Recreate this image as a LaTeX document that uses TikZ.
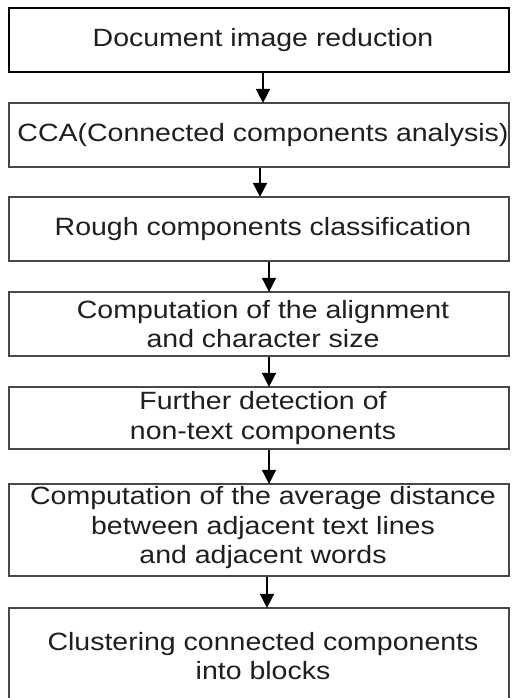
\documentclass[tikz,border=0pt]{standalone}
\usepackage{fontspec}
\setmainfont[FakeStretch=1.14]{Liberation Sans}
\usetikzlibrary{arrows.meta}

\tikzset{
  stepbox/.style={draw=black!72, line width=2.2pt, fill=white,
    minimum width=500pt, inner sep=0pt},
  firstbox/.style={stepbox, draw=black, line width=2.6pt},
  boxtext/.style={xshift=4pt, align=center, inner sep=0pt, text=black!88,
    font=\fontsize{25}{29.5}\selectfont},
  flow/.style={line width=1.6pt, draw=black,
    -{Triangle[width=14pt,length=14pt]}, shorten >=-1pt}
}

\begin{document}
\begin{tikzpicture}[x=1pt, y=1pt]
  \useasboundingbox[fill=white] (0,0) rectangle (511,-698);

  \node[firstbox, minimum height=64pt,
        label={[boxtext]center:Document image reduction}]
        (b1) at (259,-40) {};
  \node[stepbox, minimum height=64pt,
        label={[boxtext]center:CCA(Connected components analysis)}]
        (b2) at (259,-135) {};
  \node[stepbox, minimum height=64pt,
        label={[boxtext]center:Rough components classification}]
        (b3) at (259,-229) {};
  \node[stepbox, minimum height=64pt,
        label={[boxtext]center:{Computation of the alignment\\and character size}}]
        (b4) at (259,-324) {};
  \node[stepbox, minimum height=62pt,
        label={[boxtext]center:{Further detection of\\non-text components}}]
        (b5) at (259,-418) {};
  \node[stepbox, minimum height=92pt,
        label={[boxtext, yshift=2pt]center:{Computation of the average distance\\between adjacent text lines\\and adjacent words}}]
        (b6) at (259,-530) {};
  \node[stepbox, minimum height=96pt,
        label={[boxtext]center:{Clustering connected components\\into blocks}}]
        (b7) at (259,-656) {};

  \draw[flow] ([xshift=4pt]b1.south) -- ([xshift=4pt]b2.north);
  \draw[flow] ([xshift=1pt]b2.south) -- ([xshift=1pt]b3.north);
  \draw[flow] ([xshift=10pt]b3.south) -- ([xshift=10pt]b4.north);
  \draw[flow] ([xshift=10pt]b4.south) -- ([xshift=10pt]b5.north);
  \draw[flow] ([xshift=10pt]b5.south) -- ([xshift=10pt]b6.north);
  \draw[flow] ([xshift=8pt]b6.south) -- ([xshift=8pt]b7.north);
\end{tikzpicture}
\end{document}
